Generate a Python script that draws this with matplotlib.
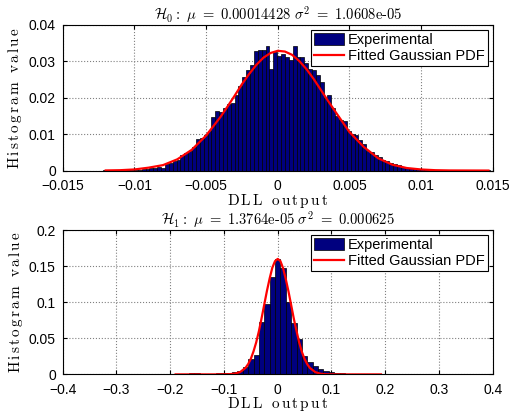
import numpy as np
import matplotlib
matplotlib.use('Agg')
import matplotlib.pyplot as plt
from matplotlib.ticker import FuncFormatter

plt.rcParams['font.family'] = ['Liberation Sans', 'DejaVu Sans']
plt.rcParams['mathtext.fontset'] = 'cm'

# H0 histogram: 100 bins, first and last bin centre
h0_first_center = -0.01205
h0_last_center = 0.01467
h0_values = [
    0.00003, 0.00000, 0.00005, 0.00000, 0.00005, 0.00015, 0.00005, 0.00010, 0.00015, 0.00020,
    0.00045, 0.00050, 0.00060, 0.00075, 0.00100, 0.00080, 0.00170, 0.00200, 0.00250, 0.00300,
    0.00420, 0.00480, 0.00550, 0.00650, 0.00880, 0.00900, 0.00970, 0.01100, 0.01460, 0.01640,
    0.01600, 0.01720, 0.01840, 0.01860, 0.02070, 0.02330, 0.02580, 0.02750, 0.02900, 0.03280,
    0.03310, 0.03300, 0.03430, 0.02790, 0.03250, 0.03160, 0.03200, 0.03130, 0.03040, 0.03430,
    0.03130, 0.03130, 0.02950, 0.02800, 0.02750, 0.02620, 0.02420, 0.01980, 0.02070, 0.01710,
    0.01500, 0.01390, 0.01350, 0.01080, 0.01000, 0.00980, 0.00830, 0.00720, 0.00530, 0.00500,
    0.00420, 0.00380, 0.00290, 0.00260, 0.00210, 0.00170, 0.00140, 0.00110, 0.00080, 0.00070,
    0.00060, 0.00050, 0.00030, 0.00030, 0.00020, 0.00010, 0.00010, 0.00010, 0.00020, 0.00000,
    0.00010, 0.00010, 0.00000, 0.00010, 0.00000, 0.00000, 0.00010, 0.00000, 0.00000, 0.00010,
]
# fitted curve
h0_curve_x = [-0.0120, -0.0110, -0.0100, -0.0090, -0.0080, -0.0070, -0.0060, -0.0050,
              -0.0040, -0.0035, -0.0030, -0.0025, -0.0020, -0.0015, -0.0010, -0.0005,
              0.0000, 0.0005, 0.0010, 0.0015, 0.0020, 0.0025, 0.0030, 0.0035, 0.0040,
              0.0050, 0.0060, 0.0070, 0.0080, 0.0090, 0.0100, 0.0110, 0.0120, 0.0147]
h0_curve_y = [0.00003, 0.0001, 0.0003, 0.0008, 0.0015, 0.0031, 0.0057, 0.0096,
              0.0147, 0.0176, 0.0206, 0.0237, 0.0265, 0.0290, 0.0310, 0.0323,
              0.0329, 0.0327, 0.0318, 0.0301, 0.0279, 0.0252, 0.0222, 0.0192, 0.0163,
              0.0106, 0.0065, 0.0034, 0.0016, 0.0007, 0.0003, 0.0001, 0.00003, 0.0]

# H1 histogram: bin width 0.01, centres from -0.38 to 0.38
h1_first_center = -0.38
h1_bin_width = 0.01
h1_values = [
    0.0003, 0.0, 0.0003, 0.0, 0.0003, 0.0003, 0.0, 0.0003, 0.0003, 0.0,
    0.0003, 0.0, 0.0003, 0.0, 0.0003, 0.0003, 0.0, 0.0003, 0.0, 0.0003,
    0.0005, 0.0005, 0.0020, 0.0020, 0.0008, 0.0005, 0.0008, 0.0015, 0.0020, 0.0020,
    0.0030, 0.0050, 0.0100, 0.0220, 0.0270, 0.0720, 0.0970, 0.1355, 0.1600, 0.1470,
    0.1000, 0.0710, 0.0490, 0.0260, 0.0175, 0.0115, 0.0070, 0.0050, 0.0030, 0.0020,
    0.0015, 0.0010, 0.0008, 0.0005, 0.0005, 0.0003, 0.0003, 0.0003, 0.0, 0.0003,
    0.0005, 0.0005, 0.0005, 0.0003, 0.0, 0.0, 0.0, 0.0, 0.0, 0.0,
    0.0, 0.0, 0.0, 0.0, 0.0, 0.0, 0.0,
]
h1_curve_x = [-0.19, -0.12, -0.10, -0.09, -0.08, -0.07, -0.06, -0.055, -0.05, -0.045,
              -0.04, -0.035, -0.03, -0.025, -0.02, -0.015, -0.01, -0.005, 0.0,
              0.005, 0.01, 0.015, 0.02, 0.025, 0.03, 0.035, 0.04, 0.045, 0.05,
              0.055, 0.06, 0.07, 0.08, 0.09, 0.10, 0.12, 0.192]
h1_curve_y = [0.0, 0.0, 0.0001, 0.0003, 0.0010, 0.0032, 0.0090, 0.0143, 0.0217, 0.0320,
              0.0445, 0.0600, 0.0780, 0.0970, 0.1160, 0.1330, 0.1480, 0.1570, 0.1600,
              0.1570, 0.1470, 0.1320, 0.1150, 0.0960, 0.0770, 0.0600, 0.0440, 0.0310, 0.0213,
              0.0140, 0.0088, 0.0031, 0.0009, 0.0002, 0.0001, 0.0, 0.0]

h0_xticks = [-0.015, -0.01, -0.005, 0, 0.005, 0.01, 0.015]
h0_yticks = [0, 0.01, 0.02, 0.03, 0.04]
h1_xticks = [-0.4, -0.3, -0.2, -0.1, 0, 0.1, 0.2, 0.3, 0.4]
h1_yticks = [0, 0.05, 0.1, 0.15, 0.2]

h0_title = r'$\mathcal{H}_0\mathrm{:}\ \mu\ =\ 0.00014428\ \sigma^2\ =\ 1.0608\text{e-05}$'
h1_title = r'$\mathcal{H}_1\mathrm{:}\ \mu\ =\ 1.3764\text{e-05}\ \sigma^2\ =\ 0.000625$'


def fmt(v, pos):
    return ('%g' % round(v, 6)).replace('-', '\u2212')


def draw_panel(ax, centers, values, width, cx, cy, xticks, yticks, title):
    bars = ax.bar(centers, values, width=width, color='#00007f', edgecolor='k',
                  linewidth=0.5)
    line, = ax.plot(cx, cy, color='r', linewidth=1.6)
    ax.set_xlim(xticks[0], xticks[-1])
    ax.set_ylim(yticks[0], yticks[-1])
    ax.set_xticks(xticks)
    ax.set_yticks(yticks)
    ax.xaxis.set_major_formatter(FuncFormatter(fmt))
    ax.yaxis.set_major_formatter(FuncFormatter(fmt))
    ax.tick_params(direction='in', top=True, right=True, length=3, labelsize=10)
    ax.tick_params(axis='x', pad=6)
    ax.tick_params(axis='y', pad=5)
    ax.grid(True, linestyle=':', color='#808080', linewidth=0.8)
    ax.set_axisbelow(True)
    ax.set_title(title, fontsize=10.5, pad=4)
    ax.set_xlabel(r'$\mathrm{D\,L\,L\ \ o\,u\,t\,p\,u\,t}$', fontsize=11, labelpad=-1)
    ax.set_ylabel(r'$\mathrm{H\,i\,s\,t\,o\,g\,r\,a\,m\ \ v\,a\,l\,u\,e}$', fontsize=11,
                  labelpad=3)
    leg = ax.legend([bars, line], ['Experimental', 'Fitted Gaussian PDF'],
                    loc='upper right', fancybox=False, framealpha=1, edgecolor='k',
                    fontsize=10.5, borderpad=0.2, labelspacing=0.15, handlelength=2.1,
                    handleheight=0.9, handletextpad=0.25, borderaxespad=0.35)
    leg.get_frame().set_linewidth(0.8)


fig = plt.figure(figsize=(5.27, 4.16), dpi=100)
ax0 = fig.add_axes([0.119, 0.590, 0.816, 0.350])
ax1 = fig.add_axes([0.119, 0.100, 0.816, 0.347])

h0_centers = np.linspace(h0_first_center, h0_last_center, len(h0_values))
h0_width = h0_centers[1] - h0_centers[0]
draw_panel(ax0, h0_centers, h0_values, h0_width, h0_curve_x, h0_curve_y,
           h0_xticks, h0_yticks, h0_title)

h1_centers = h1_first_center + h1_bin_width * np.arange(len(h1_values))
draw_panel(ax1, h1_centers, h1_values, h1_bin_width, h1_curve_x, h1_curve_y,
           h1_xticks, h1_yticks, h1_title)

fig.savefig('out.png', dpi=100)
